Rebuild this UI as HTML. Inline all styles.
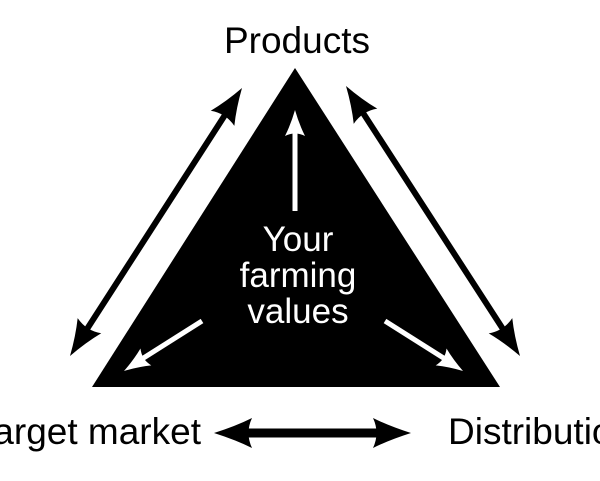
<!DOCTYPE html>
<html><head><meta charset="utf-8"><style>
html,body{margin:0;padding:0;background:#fff;}
svg{display:block;}
text{font-family:"Liberation Sans",sans-serif;}
</style></head><body>
<svg width="600" height="481" viewBox="0 0 600 481" xmlns="http://www.w3.org/2000/svg">
<polygon points="295,68 92,387 500,387" fill="#000"/>
<line x1="78" y1="343" x2="234" y2="101" stroke="#000" stroke-width="6"/>
<path transform="translate(242,88) rotate(-57.3)" d="M0,0 Q-20,-6 -36,-14 Q-30,0 -36,14 Q-20,6 0,0Z" fill="#000"/>
<path transform="translate(70,356) rotate(122.7)" d="M0,0 Q-20,-6 -36,-14 Q-30,0 -36,14 Q-20,6 0,0Z" fill="#000"/>
<line x1="354" y1="99" x2="512" y2="343" stroke="#000" stroke-width="6"/>
<path transform="translate(520,356) rotate(57.2)" d="M0,0 Q-20,-6 -36,-14 Q-30,0 -36,14 Q-20,6 0,0Z" fill="#000"/>
<path transform="translate(346,86) rotate(-122.8)" d="M0,0 Q-20,-6 -36,-14 Q-30,0 -36,14 Q-20,6 0,0Z" fill="#000"/>
<line x1="229" y1="433" x2="396" y2="433" stroke="#000" stroke-width="9"/>
<path transform="translate(411,433)" d="M0,0 Q-22,-7 -38,-15 Q-31,0 -38,15 Q-22,7 0,0Z" fill="#000"/>
<path transform="translate(214,433) rotate(180)" d="M0,0 Q-22,-7 -38,-15 Q-31,0 -38,15 Q-22,7 0,0Z" fill="#000"/>
<line x1="295" y1="211" x2="295" y2="124" stroke="#fff" stroke-width="5"/>
<path transform="translate(295,110) rotate(-90)" d="M0,0 Q-14,-4 -26,-10 Q-21,0 -26,10 Q-14,4 0,0Z" fill="#fff"/>
<line x1="202" y1="321" x2="134" y2="364" stroke="#fff" stroke-width="5"/>
<path transform="translate(124,371) rotate(147.3)" d="M0,0 Q-14,-4 -26,-10 Q-21,0 -26,10 Q-14,4 0,0Z" fill="#fff"/>
<line x1="385" y1="321" x2="453" y2="364" stroke="#fff" stroke-width="5"/>
<path transform="translate(463,371) rotate(32.7)" d="M0,0 Q-14,-4 -26,-10 Q-21,0 -26,10 Q-14,4 0,0Z" fill="#fff"/>
<text x="297" y="53" font-size="37" text-anchor="middle" fill="#000">Products</text>
<text x="201" y="444" font-size="37" text-anchor="end" fill="#000">arget market</text>
<text x="448" y="444" font-size="37" fill="#000">Distributio</text>
<text x="298" y="251" font-size="35" text-anchor="middle" fill="#fff">Your</text>
<text x="298" y="287" font-size="35" text-anchor="middle" fill="#fff">farming</text>
<text x="298" y="323" font-size="35" text-anchor="middle" fill="#fff">values</text>
</svg>
</body></html>
